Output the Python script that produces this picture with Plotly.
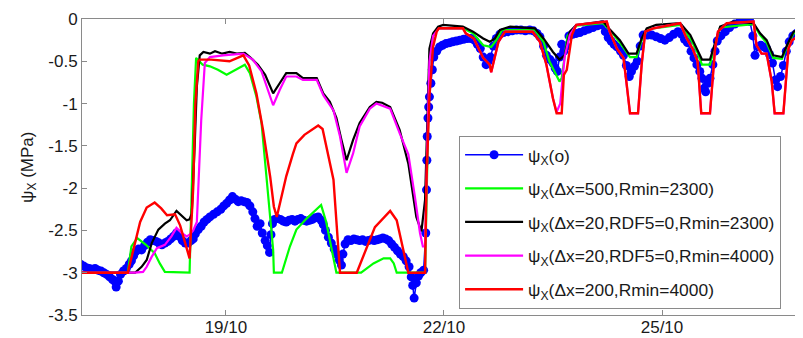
import plotly.graph_objects as go

# ---------------- data (x in days of October, y in MPa) ----------------
obs_day = [17.00, 17.04, 17.08, 17.12, 17.16, 17.20, 17.24, 17.28, 17.32, 17.36, 17.40, 17.44,
           17.47, 17.49, 17.52, 17.55, 17.59, 17.63, 17.67, 17.70, 17.73, 17.76, 17.80, 17.84,
           17.88, 17.92, 17.96, 18.00, 18.04, 18.08, 18.12, 18.16, 18.20, 18.24, 18.28, 18.32,
           18.36, 18.40, 18.44, 18.48, 18.52, 18.55, 18.58, 18.62, 18.66, 18.70, 18.74, 18.78,
           18.83, 18.88, 18.93, 18.97, 19.01, 19.05, 19.09, 19.13, 19.17, 19.21, 19.25, 19.29,
           19.33, 19.37, 19.40, 19.43, 19.47, 19.50, 19.54, 19.57, 19.60, 19.62, 19.64, 19.67,
           19.71, 19.75, 19.79, 19.83, 19.87, 19.91, 19.95, 19.99, 20.03, 20.07, 20.11, 20.15,
           20.19, 20.23, 20.27, 20.31, 20.34, 20.37, 20.41, 20.45, 20.49, 20.52, 20.56, 20.59,
           20.61, 20.64, 20.68, 20.72, 20.76, 20.80, 20.84, 20.88, 20.92, 20.96, 21.00, 21.04,
           21.08, 21.12, 21.16, 21.20, 21.24, 21.28, 21.32, 21.36, 21.40, 21.44, 21.48, 21.52,
           21.55, 21.57, 21.59, 21.62, 21.65, 21.68, 21.72, 21.75, 21.76, 21.765, 21.77, 21.78,
           21.79, 21.80, 21.82, 21.84, 21.86, 21.90, 21.94, 21.98, 22.03, 22.08, 22.12, 22.17,
           22.22, 22.27, 22.32, 22.37, 22.42, 22.46, 22.50, 22.54, 22.58, 22.61, 22.64, 22.68,
           22.72, 22.77, 22.82, 22.88, 22.94, 23.00, 23.06, 23.12, 23.18, 23.23, 23.28, 23.32,
           23.37, 23.41, 23.46, 23.50, 23.53, 23.56, 23.59, 23.62, 23.65, 23.68, 23.72, 23.77,
           23.82, 23.87, 23.93, 23.99, 24.05, 24.11, 24.17, 24.22, 24.26, 24.30, 24.34, 24.38,
           24.43, 24.47, 24.51, 24.55, 24.58, 24.62, 24.66, 24.70, 24.74, 24.80, 24.86, 24.92,
           24.98, 25.04, 25.10, 25.16, 25.22, 25.27, 25.31, 25.35, 25.40, 25.44, 25.48, 25.52,
           25.55, 25.58, 25.60, 25.63, 25.66, 25.70, 25.73, 25.76, 25.81, 25.87, 25.93, 26.00,
           26.07, 26.14, 26.21, 26.25, 26.28, 26.32, 26.36, 26.40, 26.44, 26.48, 26.52, 26.56,
           26.59, 26.63, 26.67, 26.71, 26.75, 26.80, 26.85, 26.90, 26.95]
obs_val = [-2.90, -2.92, -2.94, -2.95, -2.96, -2.95, -2.97, -2.98, -3.00, -3.02, -3.05, -3.08,
           -3.10, -3.17, -3.10, -3.02, -2.98, -2.95, -2.90, -2.86, -2.80, -2.75, -2.72, -2.73,
           -2.68, -2.64, -2.61, -2.62, -2.63, -2.65, -2.67, -2.65, -2.63, -2.60, -2.57, -2.53,
           -2.57, -2.62, -2.65, -2.65, -2.62, -2.60, -2.54, -2.49, -2.45, -2.40, -2.37, -2.34,
           -2.31, -2.28, -2.25, -2.21, -2.18, -2.14, -2.10, -2.13, -2.16, -2.15, -2.16, -2.17,
           -2.21, -2.28, -2.36, -2.45, -2.42, -2.53, -2.62, -2.68, -2.76, -2.55, -2.42, -2.37,
           -2.36, -2.37, -2.39, -2.40, -2.38, -2.37, -2.39, -2.37, -2.36, -2.38, -2.39, -2.38,
           -2.37, -2.35, -2.34, -2.38, -2.43, -2.50, -2.58, -2.65, -2.72, -2.78, -2.85, -2.91,
           -2.78, -2.66, -2.61, -2.62, -2.60, -2.61, -2.62, -2.61, -2.63, -2.62, -2.61, -2.62,
           -2.61, -2.60, -2.59, -2.60, -2.62, -2.66, -2.70, -2.74, -2.78, -2.81, -2.86, -2.93,
           -3.05, -3.15, -3.30, -3.12, -3.04, -3.00, -2.97, -2.53, -2.02, -1.67, -1.39, -1.17,
           -1.04, -0.92, -0.76, -0.60, -0.45, -0.38, -0.33, -0.31, -0.29, -0.28, -0.27, -0.26,
           -0.25, -0.24, -0.23, -0.23, -0.25, -0.30, -0.35, -0.45, -0.54, -0.50, -0.45, -0.32,
           -0.23, -0.18, -0.16, -0.15, -0.14, -0.13, -0.13, -0.14, -0.13, -0.14, -0.17, -0.21,
           -0.32, -0.43, -0.48, -0.52, -0.58, -0.62, -0.45, -0.30, -0.38, -0.32, -0.20, -0.18,
           -0.17, -0.16, -0.14, -0.12, -0.10, -0.08, -0.07, -0.15, -0.22, -0.26, -0.30, -0.33,
           -0.38, -0.43, -0.55, -0.68, -0.62, -0.56, -0.50, -0.32, -0.19, -0.19, -0.19, -0.21,
           -0.23, -0.25, -0.22, -0.18, -0.15, -0.18, -0.24, -0.28, -0.38, -0.46, -0.54, -0.62,
           -0.70, -0.82, -0.86, -0.76, -0.70, -0.54, -0.38, -0.26, -0.20, -0.15, -0.10, -0.06,
           -0.03, -0.03, -0.03, -0.20, -0.43, -0.33, -0.31, -0.33, -0.35, -0.42, -0.52, -0.72,
           -0.80, -0.68, -0.55, -0.38, -0.27, -0.20, -0.17, -0.15, -0.15]

g_day = [17.00, 17.65, 17.70, 17.78, 17.90, 18.02, 18.09, 18.16, 18.50, 18.53, 18.56, 18.59,
         18.68, 18.78, 18.89, 19.01, 19.10, 19.19, 19.26, 19.33, 19.42, 19.49, 19.56, 19.61,
         19.65, 19.66, 19.77, 19.88, 19.97, 20.11, 20.29, 20.31, 20.38, 20.52, 20.86, 21.03,
         21.17, 21.26, 21.31, 21.35, 21.74, 21.77, 21.80, 21.85, 21.92, 22.26, 22.40, 22.54,
         22.65, 22.72, 22.80, 23.25, 23.37, 23.45, 23.59, 23.62, 23.70, 23.82, 24.19, 24.30,
         24.42, 24.56, 24.65, 24.72, 24.80, 25.25, 25.39, 25.49, 25.55, 25.66, 25.73, 25.80,
         26.26, 26.35, 26.44, 26.53, 26.65, 26.72, 26.81, 27.00]
g_val = [-3.00, -3.00, -2.69, -2.59, -2.67, -2.77, -2.89, -2.99, -3.00, -2.00, -1.00, -0.46,
         -0.54, -0.56, -0.60, -0.66, -0.62, -0.58, -0.54, -0.64, -0.92, -1.23, -1.90, -2.34,
         -2.73, -3.00, -3.00, -2.69, -2.49, -2.36, -2.22, -2.20, -2.40, -3.00, -3.00, -2.89,
         -2.83, -2.83, -2.89, -3.00, -3.00, -1.50, -0.50, -0.20, -0.11, -0.11, -0.17, -0.31,
         -0.33, -0.25, -0.13, -0.13, -0.27, -0.50, -0.74, -0.70, -0.20, -0.08, -0.05, -0.15,
         -0.28, -0.45, -0.45, -0.25, -0.12, -0.07, -0.23, -0.40, -0.54, -0.54, -0.30, -0.10,
         -0.06, -0.19, -0.28, -0.46, -0.47, -0.33, -0.17, -0.13]

k_day = [17.00, 17.75, 17.84, 17.91, 17.98, 18.07, 18.16, 18.23, 18.32, 18.39, 18.46, 18.50,
         18.53, 18.57, 18.60, 18.64, 18.69, 18.78, 18.85, 18.95, 19.05, 19.15, 19.26, 19.33,
         19.44, 19.54, 19.65, 19.74, 19.83, 19.97, 20.06, 20.25, 20.34, 20.43, 20.52, 20.59,
         20.66, 20.75, 20.84, 20.98, 21.07, 21.15, 21.26, 21.39, 21.51, 21.62, 21.69, 21.74,
         21.77, 21.80, 21.85, 21.92, 21.99, 22.26, 22.40, 22.54, 22.63, 22.70, 22.77, 22.91,
         23.25, 23.37, 23.50, 23.59, 23.66, 23.73, 23.82, 24.19, 24.28, 24.42, 24.54, 24.65,
         24.72, 24.79, 24.92, 25.25, 25.39, 25.48, 25.55, 25.66, 25.73, 25.80, 25.98, 26.26,
         26.35, 26.44, 26.53, 26.65, 26.72, 26.81, 26.90, 27.00]
k_val = [-3.00, -3.00, -2.93, -2.85, -2.65, -2.49, -2.42, -2.38, -2.27, -2.32, -2.38, -2.37,
         -2.30, -1.50, -0.80, -0.43, -0.39, -0.41, -0.38, -0.41, -0.39, -0.41, -0.40, -0.45,
         -0.54, -0.66, -0.88, -0.76, -0.64, -0.64, -0.70, -0.70, -0.88, -0.98, -1.17, -1.43,
         -1.67, -1.43, -1.23, -1.04, -0.98, -0.99, -1.04, -1.31, -1.71, -2.34, -2.51, -2.14,
         -1.20, -0.35, -0.17, -0.09, -0.07, -0.09, -0.15, -0.23, -0.27, -0.23, -0.13, -0.09,
         -0.11, -0.23, -0.39, -0.48, -0.43, -0.15, -0.07, -0.03, -0.12, -0.25, -0.41, -0.41,
         -0.23, -0.11, -0.07, -0.05, -0.19, -0.35, -0.48, -0.48, -0.27, -0.09, -0.03, -0.05,
         -0.17, -0.25, -0.43, -0.45, -0.31, -0.15, -0.11, -0.10]

m_day = [17.00, 17.75, 17.86, 17.91, 17.98, 18.05, 18.16, 18.25, 18.32, 18.39, 18.46, 18.50,
         18.55, 18.60, 18.66, 18.71, 18.78, 18.96, 19.24, 19.37, 19.49, 19.65, 19.74, 19.83,
         19.97, 20.06, 20.25, 20.34, 20.48, 20.57, 20.66, 20.75, 20.84, 20.98, 21.07, 21.26,
         21.39, 21.51, 21.60, 21.67, 21.71, 21.74, 21.77, 21.80, 21.85, 21.93, 22.26, 22.30,
         22.41, 22.54, 22.63, 22.65, 22.75, 22.84, 23.22, 23.32, 23.41, 23.50, 23.55, 23.60,
         23.66, 23.73, 23.82, 24.24, 24.28, 24.38, 24.47, 24.51, 24.56, 24.67, 24.72, 24.77,
         24.88, 25.25, 25.34, 25.42, 25.49, 25.54, 25.66, 25.73, 25.77, 25.89, 26.26, 26.30,
         26.37, 26.44, 26.51, 26.55, 26.67, 26.74, 26.79, 26.90, 27.00]
m_val = [-3.00, -3.00, -2.99, -2.93, -2.81, -2.71, -2.67, -2.57, -2.47, -2.53, -2.57, -2.55,
         -2.50, -2.40, -1.20, -0.52, -0.45, -0.43, -0.41, -0.48, -0.62, -1.02, -0.84, -0.68,
         -0.68, -0.72, -0.72, -0.90, -1.08, -1.39, -1.82, -1.59, -1.27, -1.06, -1.00, -1.06,
         -1.35, -1.60, -2.10, -2.53, -2.69, -2.69, -1.50, -0.50, -0.20, -0.11, -0.11, -0.17,
         -0.23, -0.46, -0.54, -0.63, -0.27, -0.15, -0.15, -0.27, -0.54, -0.94, -1.10, -1.00,
         -0.45, -0.19, -0.07, -0.03, -0.15, -0.35, -0.46, -0.74, -1.115, -1.115, -0.54, -0.15,
         -0.11, -0.05, -0.23, -0.35, -0.50, -1.115, -1.115, -0.35, -0.15, -0.05, -0.03, -0.31,
         -0.41, -0.41, -0.74, -1.115, -1.115, -0.35, -0.25, -0.19, -0.17]

r_day = [17.00, 17.65, 17.82, 17.91, 18.02, 18.11, 18.19, 18.30, 18.37, 18.50, 18.55, 18.58,
         18.62, 18.64, 18.80, 19.05, 19.24, 19.32, 19.42, 19.51, 19.61, 19.66, 19.70, 19.83,
         19.92, 19.97, 20.08, 20.27, 20.33, 20.43, 20.48, 20.57, 20.80, 21.05, 21.26, 21.35,
         21.51, 21.74, 21.76, 21.80, 21.85, 21.90, 21.93, 22.26, 22.30, 22.41, 22.54, 22.63,
         22.65, 22.75, 22.84, 23.22, 23.32, 23.41, 23.50, 23.55, 23.62, 23.65, 23.69, 23.76,
         23.82, 24.24, 24.28, 24.38, 24.47, 24.51, 24.56, 24.67, 24.72, 24.77, 24.88, 25.25,
         25.34, 25.42, 25.49, 25.54, 25.66, 25.73, 25.77, 25.89, 26.26, 26.30, 26.37, 26.44,
         26.51, 26.55, 26.67, 26.74, 26.79, 26.90, 27.00]
r_val = [-3.00, -3.00, -2.40, -2.23, -2.17, -2.24, -2.32, -2.31, -2.44, -2.83, -2.00, -1.00,
         -0.50, -0.48, -0.48, -0.50, -0.43, -0.55, -0.88, -1.31, -1.87, -2.22, -2.34, -1.86,
         -1.60, -1.47, -1.37, -1.26, -1.30, -1.71, -1.90, -3.00, -3.00, -2.46, -2.27, -2.38,
         -3.00, -3.00, -1.90, -0.92, -0.33, -0.15, -0.11, -0.11, -0.17, -0.23, -0.46, -0.54,
         -0.63, -0.27, -0.15, -0.15, -0.27, -0.54, -0.94, -1.115, -1.115, -0.66, -0.60, -0.19,
         -0.07, -0.03, -0.15, -0.35, -0.46, -0.74, -1.115, -1.115, -0.54, -0.15, -0.11, -0.05,
         -0.23, -0.35, -0.50, -1.115, -1.115, -0.35, -0.15, -0.05, -0.03, -0.31, -0.41, -0.41,
         -0.74, -1.115, -1.115, -0.35, -0.25, -0.19, -0.17]

x_tick_vals = [19, 22, 25]
x_tick_text = ["19/10", "22/10", "25/10"]
y_tick_vals = [0, -0.5, -1, -1.5, -2, -2.5, -3, -3.5]
y_tick_text = ["0", "-0.5", "-1", "-1.5", "-2", "-2.5", "-3", "-3.5"]

names = ["ψ<sub>X</sub>(o)",
         "ψ<sub>X</sub>(Δx=500,Rmin=2300)",
         "ψ<sub>X</sub>(Δx=20,RDF5=0,Rmin=2300)",
         "ψ<sub>X</sub>(Δx=20,RDF5=0,Rmin=4000)",
         "ψ<sub>X</sub>(Δx=200,Rmin=4000)"]

FONT = "Arial, Liberation Sans, sans-serif"
AX = "#8a8a8a"
TXT = "#1a1a1a"

fig = go.Figure()
fig.add_trace(go.Scatter(x=obs_day, y=obs_val, mode="lines+markers", name=names[0],
                         line=dict(color="#0000ff", width=1.5),
                         marker=dict(color="#0000ff", size=9), legendgroup="a"))
fig.add_trace(go.Scatter(x=g_day, y=g_val, mode="lines", name=names[1],
                         line=dict(color="#00ff00", width=2.2), legendgroup="b"))
fig.add_trace(go.Scatter(x=k_day, y=k_val, mode="lines", name=names[2],
                         line=dict(color="#000000", width=2.2), legendgroup="c"))
fig.add_trace(go.Scatter(x=m_day, y=m_val, mode="lines", name=names[3],
                         line=dict(color="#ff00ff", width=2.2), legendgroup="d"))
fig.add_trace(go.Scatter(x=r_day, y=r_val, mode="lines", name=names[4],
                         line=dict(color="#ff0000", width=2.4), legendgroup="e"))

# the page body has an 8px default margin, so the figure is sized to fit the window
fig.update_layout(
    width=795, height=330,
    margin=dict(l=74, r=0, t=11, b=23),
    paper_bgcolor="white", plot_bgcolor="white",
    font=dict(family=FONT, size=17, color=TXT),
    showlegend=True,
    legend=dict(x=0.523, y=0.605, xanchor="left", yanchor="top",
                bgcolor="white", bordercolor=AX, borderwidth=1,
                font=dict(family=FONT, size=17.4, color=TXT),
                tracegroupgap=8, itemwidth=58),
    xaxis=dict(range=[17.02, 26.94], tickmode="array", tickvals=x_tick_vals,
               ticktext=x_tick_text, ticks="inside", ticklen=5, tickcolor=AX,
               showline=True, linecolor=AX, linewidth=1, mirror="ticks",
               showgrid=False, zeroline=False, automargin=False,
               ticklabelstandoff=-3),
    yaxis=dict(range=[-3.5, 0], tickmode="array", tickvals=y_tick_vals,
               ticktext=y_tick_text, ticks="inside", ticklen=5, tickcolor=AX,
               showline=True, linecolor=AX, linewidth=1, mirror="ticks",
               showgrid=False, zeroline=False, automargin=False),
    annotations=[dict(text="ψ<sub>X</sub> (MPa)", xref="paper", yref="paper",
                      x=-0.074, y=0.5, xanchor="center", yanchor="middle",
                      textangle=-90, showarrow=False,
                      font=dict(family=FONT, size=17, color=TXT))],
)

fig.write_html("out.html")
